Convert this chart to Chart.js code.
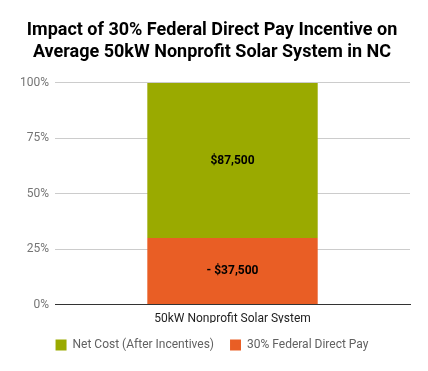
<!DOCTYPE html>
<html>
<head>
<meta charset="utf-8">
<script src="https://cdn.jsdelivr.net/npm/chart.js@4"></script>
<style>
html,body{margin:0;padding:0;background:#fff}
#wrap{width:428px;height:371px}
</style>
</head>
<body>
<div id="wrap"><canvas id="solarChart"></canvas></div>
<script>
const categories = ['50kW Nonprofit Solar System'];
const netCost = [87500];
const directPay = [37500];
const yTicks = [0, 25, 50, 75, 100];

const totals = categories.map((c, i) => netCost[i] + directPay[i]);
const pct = (arr) => arr.map((v, i) => v / totals[i] * 100);
const money = (v) => '$' + v.toLocaleString('en-US');

// writes the dollar amount in the middle of each segment
const segLabels = {
  id: 'segLabels',
  afterDatasetsDraw(chart) {
    const ctx = chart.ctx;
    ctx.save();
    ctx.font = 'bold 12px Roboto';
    ctx.fillStyle = '#000';
    ctx.textAlign = 'center';
    ctx.textBaseline = 'middle';
    chart.data.datasets.forEach((ds, di) => {
      chart.getDatasetMeta(di).data.forEach((bar, i) => {
        const y = (bar.y + bar.base) / 2;
        ctx.fillText(ds.prefix + money(ds.raw[i]), bar.x, y);
      });
    });
    ctx.restore();
  }
};

new Chart(document.getElementById('solarChart'), {
  type: 'bar',
  data: {
    labels: categories,
    datasets: [
      {label: '30% Federal Direct Pay', data: pct(directPay), raw: directPay, prefix: '- ',
        backgroundColor: '#e95e25', barPercentage: 0.48, categoryPercentage: 1},
      {label: 'Net Cost (After Incentives)', data: pct(netCost), raw: netCost, prefix: '',
        backgroundColor: '#9aaa00', barPercentage: 0.48, categoryPercentage: 1}
    ]
  },
  options: {
    responsive: true,
    maintainAspectRatio: false,
    animation: false,
    layout: {padding: {left: 14, right: 18, top: 4, bottom: 10}},
    plugins: {
      title: {
        display: true,
        text: ['Impact of 30% Federal Direct Pay Incentive on', 'Average 50kW Nonprofit Solar System in NC'],
        font: {family: 'Roboto', size: 18, weight: 'bold', lineHeight: 1.22},
        color: '#000',
        padding: {top: 16, bottom: 19}
      },
      legend: {
        position: 'bottom',
        reverse: true,
        labels: {
          boxWidth: 11, boxHeight: 11, padding: 16,
          font: {family: 'Roboto', size: 12},
          color: '#616161'
        }
      },
      tooltip: {enabled: false}
    },
    scales: {
      x: {
        stacked: true,
        grid: {display: false, drawTicks: false},
        border: {color: '#333', width: 1},
        ticks: {font: {family: 'Roboto', size: 12}, color: '#222', padding: 7},
        // tighten the gap between the category label and the legend
        afterFit: (s) => { s.height -= 10; }
      },
      y: {
        stacked: true,
        min: 0, max: 100,
        afterBuildTicks: (s) => { s.ticks = yTicks.map(v => ({value: v})); },
        grid: {color: '#cccccc', drawTicks: false},
        border: {display: false},
        ticks: {
          callback: (v) => v + '%',
          font: {family: 'Roboto', size: 12}, color: '#757575', padding: 6
        }
      }
    }
  },
  plugins: [segLabels]
});
</script>
</body>
</html>
